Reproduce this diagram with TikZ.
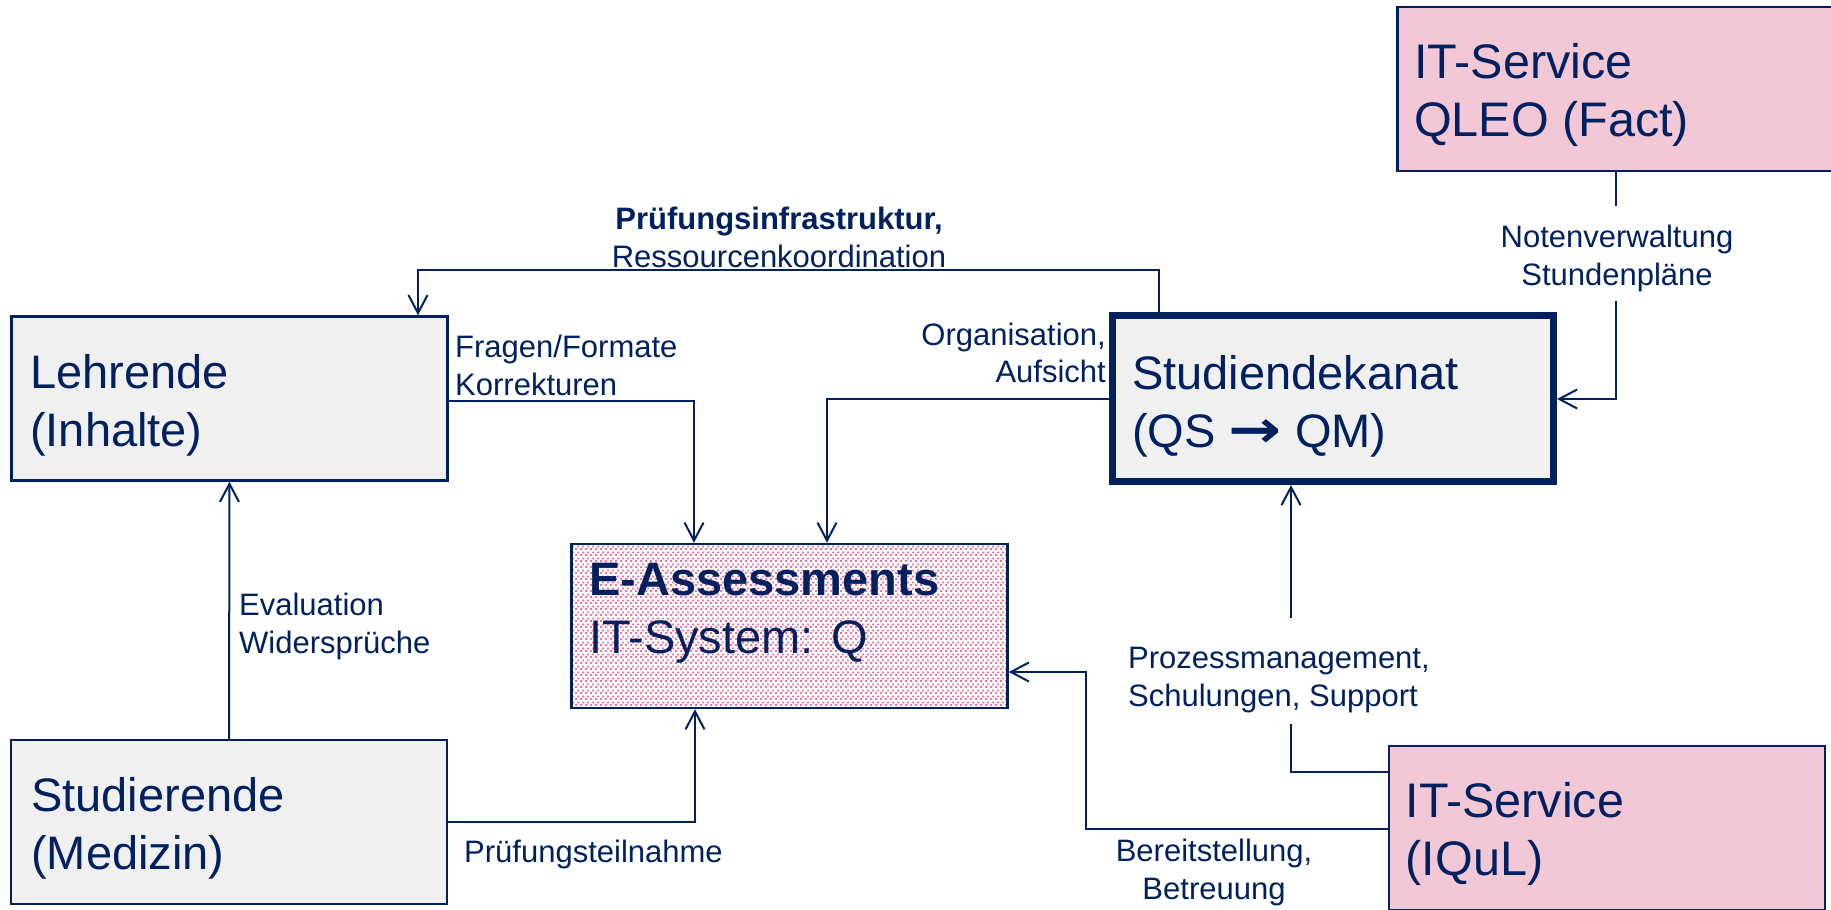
\documentclass[tikz,border=0pt]{standalone}
\usepackage{fontspec}
\setmainfont{Liberation Sans}
\newfontfamily\arrowfont{DejaVu Sans}
\usetikzlibrary{arrows.meta,patterns}
\definecolor{navy}{RGB}{0,32,96}
\definecolor{boxgrey}{RGB}{240,240,240}
\definecolor{boxpink}{RGB}{242,200,214}
\definecolor{dotpink}{RGB}{232,120,158}
\pgfdeclarepatternformonly{eadots}{\pgfqpoint{0pt}{0pt}}{\pgfqpoint{4.6pt}{6pt}}{\pgfqpoint{4.6pt}{6pt}}{%
  \pgfpathrectangle{\pgfqpoint{0pt}{0pt}}{\pgfqpoint{2.2pt}{2.2pt}}%
  \pgfpathrectangle{\pgfqpoint{2.3pt}{3pt}}{\pgfqpoint{2.2pt}{2.2pt}}%
  \pgfusepath{fill}}
\begin{document}
\begin{tikzpicture}[x=1pt,y=-1pt,
  box/.style={draw=navy, line width=2.5pt, minimum width=436pt, minimum height=164pt, inner sep=0pt},
  greybox/.style={box, fill=boxgrey},
  pinkbox/.style={box, fill=boxpink},
  dotbox/.style={box, pattern=eadots, pattern color=dotpink},
  big/.style={text=navy, font=\fontsize{47}{58}\selectfont, align=left, inner sep=0pt, anchor=base west},
  bigger/.style={big, font=\fontsize{48.5}{58}\selectfont},
  lbl/.style={text=navy, font=\fontsize{31}{37.5}\selectfont, inner sep=0pt},
  line/.style={draw=navy, line width=2pt},
  arr/.style={line, -{Straight Barb[length=18pt,width=19pt]}}]
\clip (0,0) rectangle (1831,910);
% boxes
\node[pinkbox] (qleo) at (1615.5,89) {};
\node[greybox] (leh) at (229.5,398.5) {};
\node[greybox] (stu) at (229,822) {};
\node[dotbox] (ea) at (789.5,626) {};
\node[pinkbox] (iq) at (1607,828) {};
\node[box, fill=boxgrey, line width=7pt, minimum width=441pt, minimum height=166pt] (sd) at (1333,398.5) {};
% box texts (anchor = baseline of last line)
\node[bigger] (qleoT) at (1414,136.7) {IT-Service\\QLEO (Fact)};
\node[big] (lehT) at (30,446.7) {Lehrende\\(Inhalte)};
\node[big] (stuT) at (31,869) {Studierende\\(Medizin)};
\node[big] (sdT) at (1132,447) {Studiendekanat\\(QS {\arrowfont\bfseries\scalebox{1.35}[1.1]{→}} QM)};
\node[bigger] (iqT) at (1405.6,875) {IT-Service\\(IQuL)};
\node[big] (eaT) at (589,653) {\textbf{E-Assessments}\\IT-System: Q};
% connectors
\coordinate (t1) at (1159,270);
\coordinate (t2) at (418,270);
\draw[arr] (t1 |- sd.north) -- (t1) -- (t2) -- (t2 |- leh.north);
\coordinate (f1) at (694,401);
\draw[arr] (f1 -| leh.east) -- (f1) -- (f1 |- ea.north);
\coordinate (o1) at (827,399);
\draw[arr] (o1 -| sd.west) -- (o1) -- (o1 |- ea.north);
\coordinate (n1) at (1616,206);
\coordinate (n2) at (1616,301);
\coordinate (n3) at (1616,399);
\draw[line] (n1 |- qleo.south) -- (n1);
\draw[arr] (n2) -- (n3) -- (n3 -| sd.east);
\coordinate (p1) at (1291,772);
\coordinate (p2) at (1291,724);
\coordinate (p3) at (1291,618);
\draw[line] (p1 -| iq.west) -- (p1) -- (p2);
\draw[arr] (p3) -- (p3 |- sd.south);
\coordinate (b1) at (1086,829);
\coordinate (b2) at (1086,672);
\draw[arr] (b1 -| iq.west) -- (b1) -- (b2) -- (b2 -| ea.east);
\draw[arr] (stu.north) -- (leh.south);
\coordinate (s1) at (695,822);
\draw[arr] (s1 -| stu.east) -- (s1) -- (s1 |- ea.south);
% labels (anchor = baseline of last line)
\node[lbl, align=center, anchor=base] (lblTop) at (779,267.3) {\textbf{Prüfungsinfrastruktur,}\\Ressourcenkoordination};
\node[lbl, align=left, anchor=base west] (lblFr) at (455,395) {Fragen/Formate\\Korrekturen};
\node[lbl, align=right, anchor=base east] (lblOrg) at (1106,382.7) {Organisation,\\Aufsicht};
\node[lbl, align=center, anchor=base] (lblNot) at (1617,285) {Notenverwaltung\\Stundenpläne};
\node[lbl, align=left, anchor=base west] (lblEv) at (239,653) {Evaluation\\Widersprüche};
\node[lbl, anchor=base west] (lblPt) at (464,862.7) {Prüfungsteilnahme};
\node[lbl, align=left, anchor=base west] (lblPr) at (1128,706) {Prozessmanagement,\\Schulungen, Support};
\node[lbl, align=center, anchor=base] (lblBe) at (1214,899) {Bereitstellung,\\Betreuung};
\end{tikzpicture}
\end{document}
